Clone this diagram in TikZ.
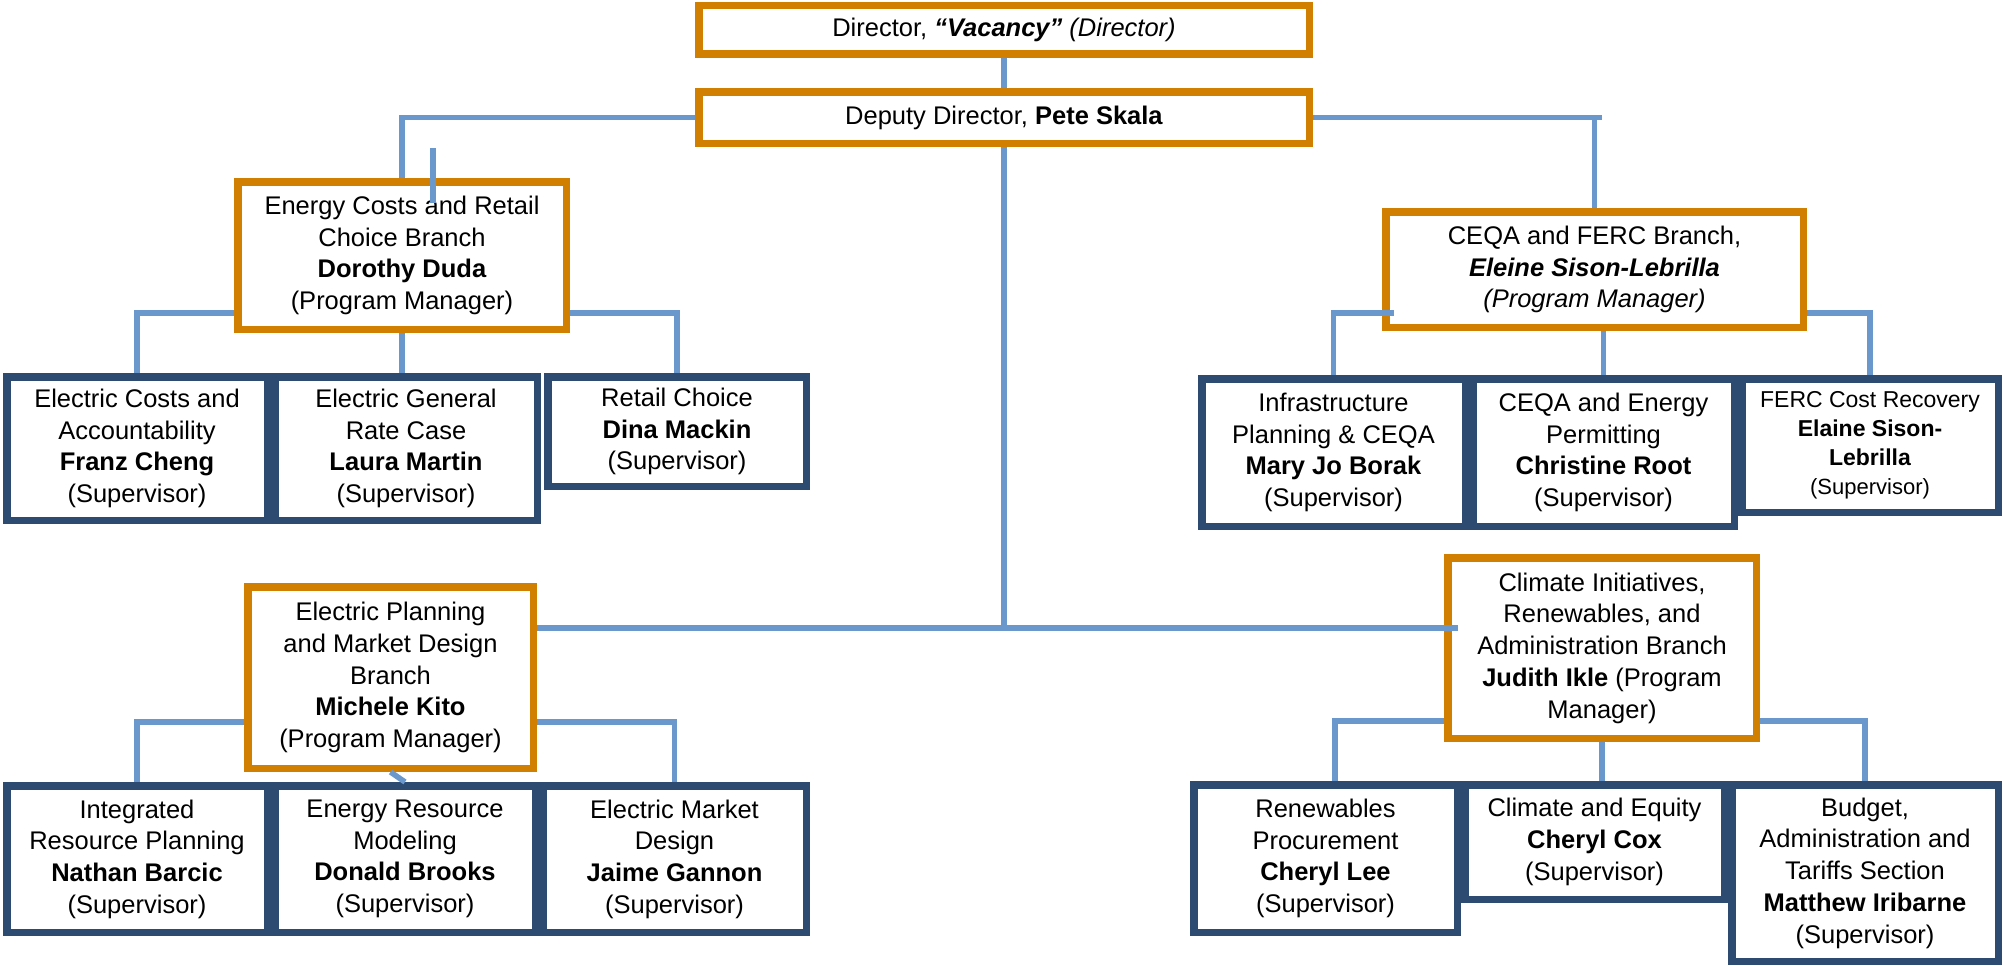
\documentclass[tikz,border=0pt]{standalone}
\usepackage{fontspec}
\setmainfont{Liberation Sans}
\definecolor{orng}{HTML}{D17F00}
\definecolor{navy}{HTML}{2D4B71}
\definecolor{lblue}{HTML}{6A98CC}
\begin{document}
\begin{tikzpicture}[x=1pt,y=-1pt,
  box/.style={draw, line width=7.5pt, fill=white, inner sep=0pt, align=center, anchor=north west,
    font=\fontsize{25.5}{31.7}\selectfont},
  obox/.style={box, draw=orng},
  nbox/.style={box, draw=navy},
  smallbox/.style={nbox, font=\fontsize{23}{29}\selectfont},
  conn/.style={draw=lblue, line width=5.5pt}]
\fill[white] (0,0) rectangle (2005,966);
\useasboundingbox (0,0) rectangle (2005,966);

% top
\node[obox, minimum width=610.5pt, minimum height=48.5pt] (dir) at (695,2) {Director, \textbf{\textit{“Vacancy”}} \textit{(Director)}};
\node[obox, minimum width=610.5pt, minimum height=51.5pt] (dep) at (695,88) {Deputy Director, \textbf{Pete Skala}};

% energy costs branch
\node[obox, minimum width=328.5pt, minimum height=147.5pt] (ecr) at (234,178) {Energy Costs and Retail\\Choice Branch\\\textbf{Dorothy Duda}\\(Program Manager)};
\node[nbox, minimum width=260.5pt, minimum height=143.5pt] (eca) at (3,373) {Electric Costs and\\Accountability\\\textbf{Franz Cheng}\\(Supervisor)};
\node[nbox, minimum width=262.5pt, minimum height=143.5pt] (egr) at (271,373) {Electric General\\Rate Case\\\textbf{Laura Martin}\\(Supervisor)};
\node[nbox, minimum width=258.5pt, minimum height=109.5pt] (rc) at (544,373) {Retail Choice\\\textbf{Dina Mackin}\\(Supervisor)};

% CEQA branch
\node[obox, minimum width=417.5pt, minimum height=115.5pt] (ceqa) at (1382,208) {CEQA and FERC Branch,\\\textbf{\textit{Eleine Sison-Lebrilla}}\\\textit{(Program Manager)}};
\node[nbox, minimum width=263.5pt, minimum height=147.5pt] (ipc) at (1198,375) {Infrastructure\\Planning \& CEQA\\\textbf{Mary Jo Borak}\\(Supervisor)};
\node[nbox, minimum width=261.5pt, minimum height=147.5pt] (cep) at (1469,375) {CEQA and Energy\\Permitting\\\textbf{Christine Root}\\(Supervisor)};
\node[smallbox, minimum width=256.5pt, minimum height=133.5pt] (ferc) at (1738,375) {FERC Cost Recovery\\\textbf{Elaine Sison-}\\\textbf{Lebrilla}\\{\fontsize{22}{29}\selectfont(Supervisor)}};

% electric planning branch
\node[obox, minimum width=285.5pt, minimum height=181.5pt] (epm) at (244,583) {Electric Planning\\and Market Design\\Branch\\\textbf{Michele Kito}\\(Program Manager)};
\node[nbox, minimum width=260.5pt, minimum height=146.5pt] (irp) at (3,782) {Integrated\\Resource Planning\\\textbf{Nathan Barcic}\\(Supervisor)};
\node[nbox, minimum width=260.5pt, minimum height=146.5pt] (erm) at (271,782) {Energy Resource\\Modeling\\\textbf{Donald Brooks}\\(Supervisor)};
\node[nbox, minimum width=263.5pt, minimum height=146.5pt] (emd) at (539,782) {Electric Market\\Design\\\textbf{Jaime Gannon}\\(Supervisor)};

% climate branch
\node[obox, minimum width=308.5pt, minimum height=180.5pt] (cli) at (1444,554) {Climate Initiatives,\\Renewables, and\\Administration Branch\\\textbf{Judith Ikle} (Program\\Manager)};
\node[nbox, minimum width=263.5pt, minimum height=147.5pt] (ren) at (1190,781) {Renewables\\Procurement\\\textbf{Cheryl Lee}\\(Supervisor)};
\node[nbox, minimum width=259.5pt, minimum height=114.5pt] (ceq) at (1461,781) {Climate and Equity\\\textbf{Cheryl Cox}\\(Supervisor)};
\node[nbox, minimum width=266.5pt, minimum height=176.5pt] (bud) at (1728,781) {Budget,\\Administration and\\Tariffs Section\\\textbf{Matthew Iribarne}\\(Supervisor)};

% helper levels
\coordinate (yA) at (0,313);
\coordinate (yT) at (0,628);
\coordinate (yB) at (0,722);
\coordinate (yC) at (0,721);
\coordinate (s1) at (433,148);
\coordinate (s2) at (433,203);
\coordinate (ov) at (1602,117.5);
\coordinate (rnx) at (1335,0);

% connectors
\draw[conn] (dir.south) -- (dep.north);
\draw[conn] (dep.west) -| (ecr.north);
\draw[conn] (s1) -- (s2);
\draw[conn] (dep.east) -- (ov);
\draw[conn] (ceqa.north |- dep.east) -- (ceqa.north);
\draw[conn] (dep.south) -- (dep.south |- yT);
\draw[conn] (epm.east |- yT) -- ([xshift=14pt]cli.west |- yT);

\draw[conn] (ecr.west |- yA) -| (eca.north);
\draw[conn] (ecr.east |- yA) -| (rc.north);
\draw[conn] (ecr.south) -- (ecr.south |- egr.north);

\draw[conn] ([xshift=12pt]ceqa.west |- yA) -| (ipc.north);
\draw[conn] (ceqa.east |- yA) -| (ferc.north);
\draw[conn] (cep.north |- ceqa.south) -- (cep.north);

\draw[conn] (epm.west |- yB) -| (irp.north);
\draw[conn] (epm.east |- yB) -| (emd.north);
\draw[conn] (epm.south) -- (erm.north);

\draw[conn] (cli.west |- yC) -| (rnx |- ren.north);
\draw[conn] (cli.east |- yC) -| (bud.north);
\draw[conn] (cli.south) -- (cli.south |- ceq.north);
\end{tikzpicture}
\end{document}
